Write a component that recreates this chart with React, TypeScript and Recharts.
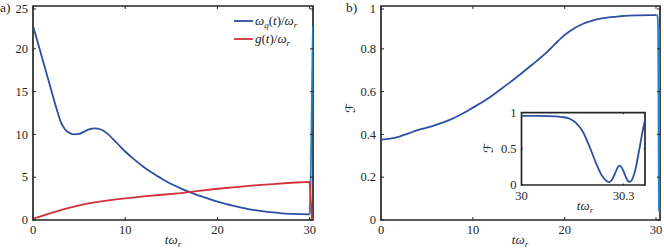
import React from 'react';
import { LineChart, Line, XAxis, YAxis, ReferenceArea } from 'recharts';

// ---------- data ----------
const tOmega = [0, 0.5, 1, 1.5, 2, 2.5, 2.75, 3, 3.25, 3.5, 4, 4.5, 5, 5.5, 6, 6.7, 7.3, 8, 9, 10, 11, 12, 13, 14, 15, 16, 17, 18, 19, 20, 21, 22, 23, 24, 25, 26, 27, 28, 29, 30];
const omegaQ = [22.7, 20.8, 18.9, 17.0, 15.1, 13.2, 12.3, 11.5, 10.95, 10.55, 10.15, 10.0, 10.05, 10.3, 10.55, 10.7, 10.6, 10.15, 9.1, 8.0, 7.05, 6.2, 5.45, 4.8, 4.2, 3.7, 3.25, 2.85, 2.5, 2.15, 1.85, 1.6, 1.35, 1.15, 1.0, 0.88, 0.78, 0.72, 0.68, 0.65];
const tOmegaReturn = [30, 30.1, 30.2, 30.3, 30.363];
const omegaQReturn = [0.65, 4, 11, 19, 22.7];
const tG = [0, 1, 2, 3, 4, 5, 6, 7, 8, 9, 10, 12, 14, 16, 18, 20, 22, 24, 26, 28, 30, 30.26];
const gCoupling = [0.15, 0.48, 0.82, 1.16, 1.45, 1.72, 1.95, 2.12, 2.27, 2.4, 2.52, 2.75, 2.95, 3.15, 3.4, 3.65, 3.85, 4.05, 4.2, 4.35, 4.45, 0];
const tFid = [0, 1, 2, 3, 4, 5, 6, 7, 8, 9, 10, 11, 12, 13, 14, 15, 16, 17, 18, 19, 20, 21, 22, 23, 24, 25, 26, 27, 28, 29, 30];
const fidelity = [0.376, 0.38, 0.39, 0.405, 0.42, 0.432, 0.445, 0.46, 0.478, 0.5, 0.525, 0.55, 0.578, 0.61, 0.642, 0.675, 0.71, 0.745, 0.782, 0.825, 0.865, 0.895, 0.917, 0.932, 0.942, 0.948, 0.952, 0.955, 0.956, 0.957, 0.957];
const tFidEnd = [30, 30.05, 30.1, 30.12, 30.14, 30.16, 30.18, 30.2, 30.22, 30.235, 30.25, 30.258, 30.265, 30.275, 30.283, 30.289, 30.296, 30.305, 30.312, 30.318, 30.325, 30.335, 30.345, 30.355, 30.363];
const fidelityEnd = [0.957, 0.956, 0.95, 0.94, 0.92, 0.86, 0.74, 0.53, 0.29, 0.14, 0.055, 0.04, 0.065, 0.16, 0.245, 0.268, 0.23, 0.13, 0.06, 0.042, 0.075, 0.22, 0.46, 0.72, 0.9];

const ticksAX = [0, 10, 20, 30];
const ticksAY = [0, 5, 10, 15, 20, 25];
const ticksBY = [0, 0.2, 0.4, 0.6, 0.8, 1];
const ticksInsetX = [30, 30.3];
const ticksInsetY = [0, 0.5, 1];

// ---------- style ----------
const INK = '#262626';
const BLUE = '#2C4FA3';
const LIGHT = '#1B87D2';
const RED = '#D2303A';
const FONT = "'Liberation Serif', 'Times New Roman', serif";
const FS = 12.5;

const zip = (t: number[], v: number[]) => t.map((x, i) => ({ t: x, v: v[i] }));

const txt = (fs: number, extra: any = {}) => ({ fontSize: fs, fontFamily: FONT, fill: INK, ...extra });

function xTick(top: number, bottom: number, labelY: number, tl: number, fs: number) {
  return (p: any) => {
    const x = p.x;
    return (
      <g>
        <line x1={x} x2={x} y1={bottom} y2={bottom - tl} stroke={INK} strokeWidth={1} />
        <line x1={x} x2={x} y1={top} y2={top + tl} stroke={INK} strokeWidth={1} />
        <text x={x} y={labelY} textAnchor="middle" fontFamily={FONT} style={txt(fs)}>{String(p.payload.value)}</text>
      </g>
    );
  };
}

function yTick(left: number, right: number, labelX: number, tl: number, fs: number) {
  return (p: any) => {
    const y = p.y;
    return (
      <g>
        <line x1={left} x2={left + tl} y1={y} y2={y} stroke={INK} strokeWidth={1} />
        <line x1={right} x2={right - tl} y1={y} y2={y} stroke={INK} strokeWidth={1} />
        <text x={labelX} y={y + fs * 0.33} textAnchor="end" fontFamily={FONT} style={txt(fs)}>{String(p.payload.value)}</text>
      </g>
    );
  };
}

const XMAX = 30.363;

function PanelA() {
  const top = 6, bottom = 220, left = 33, right = 313;
  return (
    <LineChart width={332} height={249} margin={{ top, right: 332 - right, bottom: 9, left: 0 }}>
      <XAxis type="number" dataKey="t" domain={[0, XMAX]} ticks={ticksAX} allowDataOverflow height={20} axisLine={false} tickLine={false} tick={xTick(top, bottom, 234, 3, FS)} />
      <YAxis type="number" dataKey="v" domain={[0, 25]} ticks={ticksAY} allowDataOverflow width={left} axisLine={false} tickLine={false} tick={yTick(left, right, left - 5, 3, FS)} />
      <ReferenceArea x1={0} x2={XMAX} y1={0} y2={25} fill="none" stroke={INK} strokeWidth={1.7} ifOverflow="visible" />
      <Line data={zip(tOmega, omegaQ)} dataKey="v" type="monotone" stroke={BLUE} strokeWidth={1.8} dot={false} isAnimationActive={false} />
      <Line data={zip(tOmegaReturn, omegaQReturn)} dataKey="v" type="linear" stroke={LIGHT} strokeWidth={1.8} dot={false} isAnimationActive={false} />
      <Line data={zip(tG, gCoupling)} dataKey="v" type="linear" stroke={RED} strokeWidth={1.8} dot={false} isAnimationActive={false} />
    </LineChart>
  );
}

function PanelB() {
  const top = 6, bottom = 220, left = 49, right = 328;
  return (
    <LineChart width={332} height={249} margin={{ top, right: 332 - right, bottom: 9, left: 0 }}>
      <XAxis type="number" dataKey="t" domain={[0, XMAX]} ticks={ticksAX} allowDataOverflow height={20} axisLine={false} tickLine={false} tick={xTick(top, bottom, 234, 3, FS)} />
      <YAxis type="number" dataKey="v" domain={[0, 1]} ticks={ticksBY} allowDataOverflow width={left} axisLine={false} tickLine={false} tick={yTick(left, right, left - 5, 3, FS)} />
      <ReferenceArea x1={0} x2={XMAX} y1={0} y2={1} fill="none" stroke={INK} strokeWidth={1.7} ifOverflow="visible" />
      <Line data={zip(tFid, fidelity)} dataKey="v" type="monotone" stroke={BLUE} strokeWidth={1.8} dot={false} isAnimationActive={false} />
      <Line data={zip(tFidEnd, fidelityEnd)} dataKey="v" type="monotone" stroke={LIGHT} strokeWidth={1.8} dot={false} isAnimationActive={false} />
    </LineChart>
  );
}

function Inset() {
  const top = 12.7, bottom = 85, left = 41.5, right = 165;
  return (
    <LineChart width={170} height={110} margin={{ top, right: 170 - right, bottom: 10, left: 0 }}>
      <XAxis type="number" dataKey="t" domain={[30, XMAX]} ticks={ticksInsetX} allowDataOverflow height={15} axisLine={false} tickLine={false} tick={xTick(top, bottom, 100, 1.5, FS)} />
      <YAxis type="number" dataKey="v" domain={[0, 1]} ticks={ticksInsetY} allowDataOverflow width={left} axisLine={false} tickLine={false} tick={yTick(left, right, left - 5, 1.5, FS)} />
      <ReferenceArea x1={30} x2={XMAX} y1={0} y2={1} fill="none" stroke={INK} strokeWidth={1.7} ifOverflow="visible" />
      <Line data={zip(tFidEnd, fidelityEnd)} dataKey="v" type="monotone" stroke={BLUE} strokeWidth={1.8} dot={false} isAnimationActive={false} />
    </LineChart>
  );
}

function TOmegaR({ x, y, fs }: { x: number; y: number; fs: number }) {
  return (
    <text x={x} y={y} textAnchor="middle" fontFamily={FONT} style={txt(fs, { fontStyle: 'italic' })}>
      <tspan>tω</tspan>
      <tspan dy={2.5} style={{ fontSize: fs * 0.7 }}>r</tspan>
    </text>
  );
}

function ScriptF({ x, y }: { x: number; y: number }) {
  return (
    <text transform={`translate(${x},${y}) rotate(-90)`} textAnchor="middle"
      style={{ fontSize: 13, fontFamily: "'DejaVu Sans', sans-serif", fill: INK }}>ℱ</text>
  );
}

export default function App() {
  return (
    <div style={{ position: 'absolute', left: 0, top: 0, width: 664, height: 249, background: '#fff', overflow: 'hidden' }}>
      <div style={{ position: 'absolute', left: 0, top: 0 }}><PanelA /></div>
      <div style={{ position: 'absolute', left: 332, top: 0 }}><PanelB /></div>
      <div style={{ position: 'absolute', left: 522, top: 113, width: 122, height: 71, background: '#fff' }} />
      <div style={{ position: 'absolute', left: 480, top: 100 }}><Inset /></div>
      <svg width={664} height={249} style={{ position: 'absolute', left: 0, top: 0, pointerEvents: 'none' }}>
        <text x={0} y={12} fontFamily={FONT} style={txt(13.5)}>a)</text>
        <text x={346} y={12} fontFamily={FONT} style={txt(13.5)}>b)</text>
        <TOmegaR x={173} y={244} fs={13} />
        <TOmegaR x={520} y={244} fs={13} />
        <TOmegaR x={585} y={210} fs={13} />
        <ScriptF x={355} y={108} />
        <ScriptF x={493} y={148} />
        {/* legend */}
        <line x1={234} x2={253} y1={21} y2={21} stroke={BLUE} strokeWidth={1.8} />
        <text x={255} y={25} fontFamily={FONT} style={txt(13)}>
          <tspan style={{ fontStyle: 'italic' }}>ω</tspan>
          <tspan dy={3} style={{ fontSize: 9, fontStyle: 'italic' }}>q</tspan>
          <tspan dy={-3}>(</tspan>
          <tspan style={{ fontStyle: 'italic' }}>t</tspan>
          <tspan>)/</tspan>
          <tspan style={{ fontStyle: 'italic' }}>ω</tspan>
          <tspan dy={3} style={{ fontSize: 9, fontStyle: 'italic' }}>r</tspan>
        </text>
        <line x1={234} x2={253} y1={39} y2={39} stroke={RED} strokeWidth={1.8} />
        <text x={255} y={43} fontFamily={FONT} style={txt(13)}>
          <tspan style={{ fontStyle: 'italic' }}>g</tspan>
          <tspan>(</tspan>
          <tspan style={{ fontStyle: 'italic' }}>t</tspan>
          <tspan>)/</tspan>
          <tspan style={{ fontStyle: 'italic' }}>ω</tspan>
          <tspan dy={3} style={{ fontSize: 9, fontStyle: 'italic' }}>r</tspan>
        </text>
      </svg>
    </div>
  );
}
